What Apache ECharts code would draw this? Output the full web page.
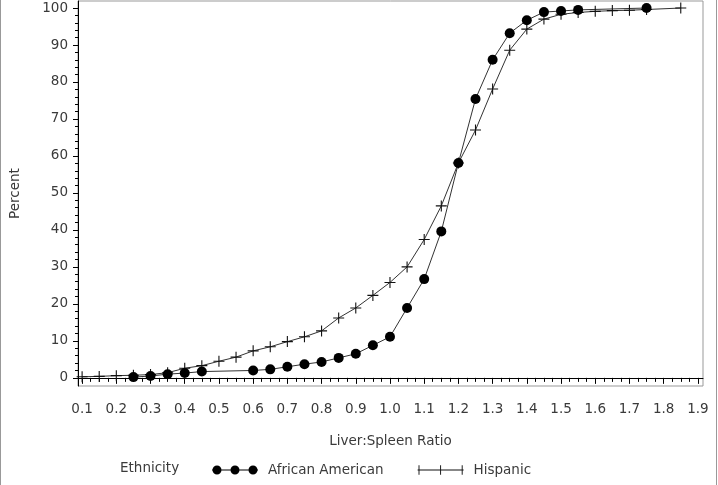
<!DOCTYPE html>
<html>
<head>
<meta charset="utf-8">
<script src="https://cdn.jsdelivr.net/npm/echarts@6/dist/echarts.min.js"></script>
<style>
  html, body { margin: 0; padding: 0; background: #fff; }
  #main { width: 718px; height: 485px; }
</style>
</head>
<body>
<div id="main"></div>
<script>
// African American
var aaX = [0.25, 0.30, 0.35, 0.40, 0.45, 0.60, 0.65, 0.70, 0.75, 0.80, 0.85, 0.90, 0.95,
  1.00, 1.05, 1.10, 1.15, 1.20, 1.25, 1.30, 1.35, 1.40, 1.45, 1.50, 1.55, 1.75];
var aaY = [0.2, 0.5, 1.0, 1.3, 1.7, 2.0, 2.3, 3.0, 3.7, 4.3, 5.4, 6.5, 8.8,
  11.1, 18.9, 26.7, 39.6, 58.1, 75.4, 86.0, 93.2, 96.7, 98.9, 99.2, 99.5, 100];

// Hispanic
var hiX = [0.10, 0.15, 0.20, 0.25, 0.30, 0.35, 0.40, 0.45, 0.50, 0.55, 0.60, 0.65, 0.70,
  0.75, 0.80, 0.85, 0.90, 0.95, 1.00, 1.05, 1.10, 1.15, 1.20, 1.25, 1.30, 1.35, 1.40,
  1.45, 1.50, 1.55, 1.60, 1.65, 1.70, 1.75, 1.85];
var hiY = [0.3, 0.4, 0.6, 0.7, 0.9, 1.4, 2.6, 3.3, 4.5, 5.6, 7.3, 8.4, 9.8,
  11.1, 12.7, 16.2, 18.9, 22.3, 25.8, 30.0, 37.4, 46.5, 58.1, 67.0, 78.1, 88.6, 94.3,
  97.0, 98.3, 98.8, 99.1, 99.3, 99.4, 99.6, 100];

// tick labels
var xTicks = [0.1, 0.2, 0.3, 0.4, 0.5, 0.6, 0.7, 0.8, 0.9, 1.0, 1.1, 1.2, 1.3, 1.4, 1.5, 1.6, 1.7, 1.8, 1.9];
var yTicks = [0, 10, 20, 30, 40, 50, 60, 70, 80, 90, 100];

// minor ticks: 4 steps between x labels, 5 steps between y labels
var xMinor = [];
for (var i = 0; i < xTicks.length - 1; i++) {
  for (var k = 1; k < 4; k++) xMinor.push(+(xTicks[i] + k * 0.025).toFixed(3));
}
var yMinor = [];
for (var j = 0; j < yTicks.length - 1; j++) {
  for (var m = 1; m < 5; m++) yMinor.push(yTicks[j] + m * 2);
}

function pairs(xs, ys) {
  return xs.map(function (x, i) { return [x, ys[i]]; });
}

var font = 'DejaVu Sans';
var txt = '#3a3a3a';
var fs = 13.5;

var plusPath = 'path://M0 4.5 H10 V5.5 H0 Z M4.5 0 H5.5 V10 H4.5 Z';
var aaIcon = 'path://M0 4.6 H46 V5.4 H0 Z M0.5 5 A4.5 4.5 0 1 1 9.5 5 A4.5 4.5 0 1 1 0.5 5 Z ' +
  'M18.5 5 A4.5 4.5 0 1 1 27.5 5 A4.5 4.5 0 1 1 18.5 5 Z M36.5 5 A4.5 4.5 0 1 1 45.5 5 A4.5 4.5 0 1 1 36.5 5 Z';
var hiIcon = 'path://M0 4.5 H49 V5.5 H0 Z M1 0 H2 V10 H1 Z M24 0 H25 V10 H24 Z M47 0 H48 V10 H47 Z';

var chart = echarts.init(document.getElementById('main'));

var option = {
  backgroundColor: '#ffffff',
  animation: false,
  title: {
    text: 'Ethnicity',
    left: 115,
    top: 456,
    textStyle: { fontFamily: font, fontSize: fs, fontWeight: 'normal', color: txt }
  },
  legend: {
    left: 207,
    top: 458,
    itemWidth: 46,
    itemHeight: 10,
    itemGap: 34,
    textStyle: { fontFamily: font, fontSize: fs, color: txt, padding: [0, 0, 0, 5] },
    data: [
      { name: 'African American', icon: aaIcon },
      { name: 'Hispanic', icon: hiIcon }
    ]
  },
  graphic: [
    { type: 'line', shape: { x1: 0.5, y1: 0, x2: 0.5, y2: 485 }, style: { stroke: '#999', lineWidth: 1 } },
    { type: 'line', shape: { x1: 716.5, y1: 0, x2: 716.5, y2: 485 }, style: { stroke: '#999', lineWidth: 1 } }
  ],
  grid: {
    left: 76,
    right: 15,
    top: 1,
    bottom: 99,
    show: true,
    borderColor: '#999',
    borderWidth: 1
  },
  xAxis: [{
    type: 'value',
    min: 0.088,
    max: 1.915,
    name: 'Liver:Spleen Ratio',
    nameLocation: 'middle',
    nameGap: 48,
    nameTextStyle: { fontFamily: font, fontSize: fs, color: txt },
    axisLine: { show: true, lineStyle: { color: '#000', width: 1 } },
    axisTick: { show: true, customValues: xTicks, length: 6, lineStyle: { color: '#000' } },
    axisLabel: {
      customValues: xTicks,
      margin: 16,
      fontFamily: font, fontSize: fs, color: txt,
      formatter: function (v) { return v.toFixed(1); }
    },
    splitLine: { show: false }
  }, {
    type: 'value',
    position: 'bottom',
    min: 0.088,
    max: 1.915,
    axisLine: { show: false },
    axisTick: { show: true, customValues: xMinor, length: 4, lineStyle: { color: '#000' } },
    axisLabel: { show: false },
    splitLine: { show: false }
  }],
  yAxis: [{
    type: 'value',
    min: -2.2,
    max: 101.9,
    name: 'Percent',
    nameLocation: 'middle',
    nameRotate: 90,
    nameGap: 56,
    nameTextStyle: { fontFamily: font, fontSize: fs, color: txt },
    axisLine: { show: true, lineStyle: { color: '#000', width: 1 } },
    axisTick: { show: true, customValues: yTicks, length: 5, lineStyle: { color: '#000' } },
    axisLabel: { customValues: yTicks, margin: 10, fontFamily: font, fontSize: fs, color: txt },
    splitLine: { show: false }
  }, {
    type: 'value',
    position: 'left',
    min: -2.2,
    max: 101.9,
    axisLine: { show: false },
    axisTick: { show: true, customValues: yMinor, length: 3, lineStyle: { color: '#000' } },
    axisLabel: { show: false },
    splitLine: { show: false }
  }],
  series: [{
    name: 'Hispanic',
    type: 'line',
    xAxisIndex: 0,
    yAxisIndex: 0,
    data: pairs(hiX, hiY),
    symbol: plusPath,
    symbolSize: 11,
    showAllSymbol: true,
    clip: false,
    itemStyle: { color: '#111', borderWidth: 0 },
    lineStyle: { color: '#333', width: 1 }
  }, {
    name: 'African American',
    type: 'line',
    xAxisIndex: 0,
    yAxisIndex: 0,
    data: pairs(aaX, aaY),
    symbol: 'circle',
    symbolSize: 10,
    showAllSymbol: true,
    clip: false,
    itemStyle: { color: '#000', borderWidth: 0 },
    lineStyle: { color: '#333', width: 1 }
  }]
};

chart.setOption(option);
</script>
</body>
</html>
